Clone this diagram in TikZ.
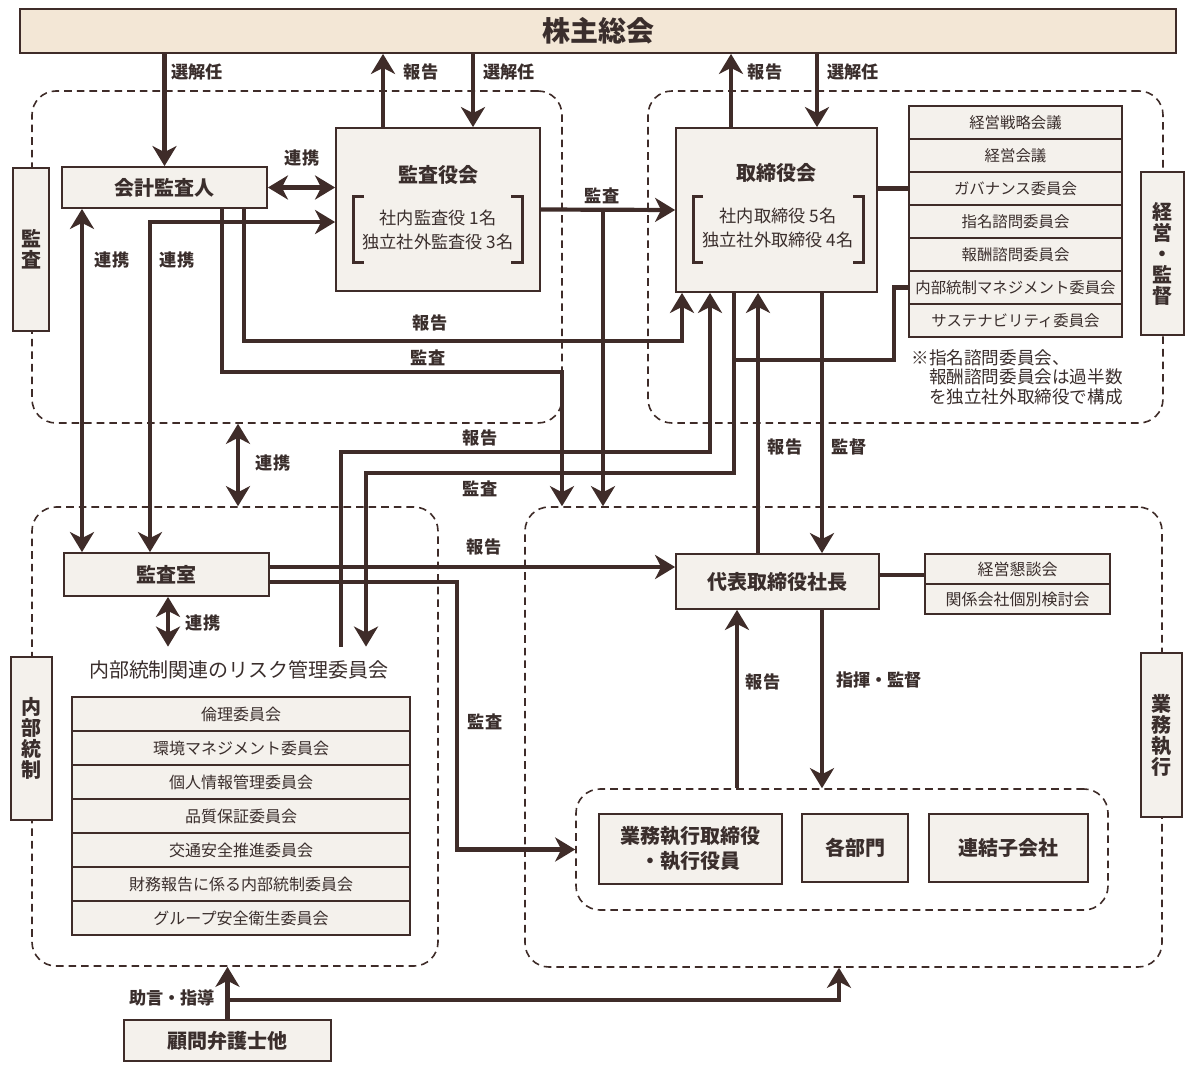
\documentclass[tikz,border=0pt]{standalone}
\usepackage{fontspec}
\setmainfont{Noto Sans CJK JP}
\usetikzlibrary{arrows.meta}

\definecolor{dline}{HTML}{3F2C29}
\definecolor{dtext}{HTML}{3A2E2C}
\definecolor{boxfill}{HTML}{F4F1EC}
\definecolor{topfill}{HTML}{F3E7D6}

\tikzset{
  box/.style={draw=dline,fill=boxfill,line width=0.9pt,inner sep=0pt,text=dtext,
    font=\bfseries\fontsize{10}{12.5}\selectfont,align=center},
  topbox/.style={box,fill=topfill,font=\bfseries\fontsize{14}{16}\selectfont},
  sidebox/.style={box,font=\bfseries\fontsize{10}{10.5}\selectfont},
  row/.style={box,line width=0.6pt,font=\fontsize{8}{10}\selectfont},
  comrow/.style={row,font=\fontsize{7.7}{10}\selectfont},
  area/.style={draw=dline,line width=0.8pt,dash pattern=on 3.8pt off 2.5pt,
    rounded corners=12pt,inner sep=0pt},
  lbl/.style={inner sep=0pt,text=dtext,font=\bfseries\fontsize{8.6}{10}\selectfont},
  member/.style={inner sep=0pt,text=dtext,align=center,font=\fontsize{8.6}{12}\selectfont},
  arr/.style={draw=dline,line width=2.1pt,-{Stealth[length=10pt,width=12pt,inset=3pt]}},
  darr/.style={arr,{Stealth[length=10pt,width=12pt,inset=3pt]}-{Stealth[length=10pt,width=12pt,inset=3pt]}},
  conn/.style={draw=dline,line width=2.1pt},
  brk/.style={draw=dline,line width=1.5pt}
}

% box from its corners (px)
\newcommand{\drawbox}[7][]{%
\node[box,#1,minimum width={(#5-#3)*0.5pt},minimum height={(#6-#4)*0.5pt}] (#2) at ({(#3+#5)/2},{(#4+#6)/2}) {#7};
}
\newcommand{\drawarea}[5]{%
\node[area,minimum width={(#4-#2)*0.5pt},minimum height={(#5-#3)*0.5pt}] (#1) at ({(#2+#4)/2},{(#3+#5)/2}) {};
}
\newcommand{\putlabel}[4]{%
\node[lbl] (#1) at (#2,#3) {#4};
}

\begin{document}
\begin{tikzpicture}[x=0.5pt,y=-0.5pt]
\useasboundingbox (0,0) rectangle (1200,1076);

% dashed areas
\drawarea{kansaarea}{32}{91}{562}{423}
\drawarea{keieiarea}{648}{91}{1163}{423}
\drawarea{naibuarea}{32}{507}{438}{966}
\drawarea{gyomuarea}{525}{507}{1162}{967}
\drawarea{innerarea}{576}{789}{1108}{910}

% side boxes
\drawbox[sidebox]{kansaside}{13}{168}{49}{331}{監\\査}
\drawbox[sidebox]{keieiside}{1141}{172}{1184}{335}{経\\営\\・\\監\\督}
\drawbox[sidebox]{naibuside}{11}{657}{52}{820}{内\\部\\統\\制}
\drawbox[sidebox]{gyomuside}{1141}{653}{1182}{817}{業\\務\\執\\行}

% main boxes
\drawbox[topbox]{soukai}{20}{9}{1176}{53}{株主総会}
\drawbox{kaikei}{62}{167}{267}{208}{会計監査人}
\drawbox{kansayaku}{336}{128}{540}{291}{}
\drawbox{torishimari}{676}{128}{877}{292}{}
\drawbox{kansashitsu}{64}{553}{269}{596}{監査室}
\drawbox{president}{676}{554}{879}{609}{代表取締役社長}
\drawbox{gyomuexec}{599}{814}{782}{884}{業務執行取締役\\・執行役員}
\drawbox{kakubumon}{802}{814}{908}{882}{各部門}
\drawbox{renketsu}{929}{814}{1088}{882}{連結子会社}
\drawbox{komon}{124}{1020}{331}{1061}{顧問弁護士他}

% 監査役会 / 取締役会
\node[box,draw=none,fill=none] (kansatitle) at (438,175) {監査役会};
\node[member] (kansamem) at (438,230) {社内監査役 1名\\独立社外監査役 3名};
\draw[brk] (364,196) -- (353,196) -- (353,262) -- (364,262);
\draw[brk] (511,196) -- (522,196) -- (522,262) -- (511,262);
\node[box,draw=none,fill=none] (torititle) at (776,173) {取締役会};
\node[member] (torimem) at (778,228) {社内取締役 5名\\独立社外取締役 4名};
\draw[brk] (703,196) -- (693,196) -- (693,262) -- (703,262);
\draw[brk] (853,196) -- (863,196) -- (863,262) -- (853,262);

% committees
\drawbox[comrow]{com1}{909}{106}{1122}{139}{経営戦略会議}
\drawbox[comrow]{com2}{909}{139}{1122}{172}{経営会議}
\drawbox[comrow]{com3}{909}{172}{1122}{205}{ガバナンス委員会}
\drawbox[comrow]{com4}{909}{205}{1122}{238}{指名諮問委員会}
\drawbox[comrow]{com5}{909}{238}{1122}{271}{報酬諮問委員会}
\drawbox[comrow]{com6}{909}{271}{1122}{304}{内部統制マネジメント委員会}
\drawbox[comrow]{com7}{909}{304}{1122}{337}{サステナビリティ委員会}
\node[member,align=left,anchor=north west,font=\fontsize{8.8}{9.8}\selectfont] (note) at (911,349)
  {※指名諮問委員会、\\\hspace*{1em}報酬諮問委員会は過半数\\\hspace*{1em}を独立社外取締役で構成};

% risk committees
\node[member,minimum height=23pt,font=\fontsize{10}{12}\selectfont] (risk) at (239,670) {内部統制関連のリスク管理委員会};
\drawbox[row]{risk1}{72}{697}{410}{731}{倫理委員会}
\drawbox[row]{risk2}{72}{731}{410}{765}{環境マネジメント委員会}
\drawbox[row]{risk3}{72}{765}{410}{799}{個人情報管理委員会}
\drawbox[row]{risk4}{72}{799}{410}{833}{品質保証委員会}
\drawbox[row]{risk5}{72}{833}{410}{867}{交通安全推進委員会}
\drawbox[row]{risk6}{72}{867}{410}{901}{財務報告に係る内部統制委員会}
\drawbox[row]{risk7}{72}{901}{410}{935}{グループ安全衛生委員会}

% 経営懇談会
\drawbox[row]{kondan1}{925}{554}{1110}{584}{経営懇談会}
\drawbox[row]{kondan2}{925}{584}{1110}{614}{関係会社個別検討会}

% lanes
\coordinate (x82) at (82,0);
\coordinate (x168) at (168,0);
\coordinate (x238) at (238,0);
\coordinate (x383) at (383,0);
\coordinate (x473) at (473,0);
\coordinate (x603) at (603,0);
\coordinate (x731) at (731,0);
\coordinate (x737) at (737,0);
\coordinate (x758) at (758,0);
\coordinate (x817) at (817,0);
\coordinate (x822) at (822,0);
\coordinate (y567) at (0,567);
\coordinate (y575) at (0,575);
\coordinate (c150) at (150,222);
\coordinate (c244) at (244,341);
\coordinate (c682) at (682,341);
\coordinate (c222) at (222,372);
\coordinate (c562) at (562,372);
\coordinate (c341) at (341,452);
\coordinate (c710) at (710,452);
\coordinate (c734) at (734,473);
\coordinate (c366) at (366,473);
\coordinate (c894) at (894,360);
\coordinate (c457) at (457,582);
\coordinate (c839) at (839,1000);

% 株主総会
\draw[arr] (soukai.south -| kaikei.north) -- (kaikei.north);
\draw[arr] (kansayaku.north -| x383) -- (soukai.south -| x383);
\draw[arr] (soukai.south -| x473) -- (kansayaku.north -| x473);
\draw[arr] (torishimari.north -| x731) -- (soukai.south -| x731);
\draw[arr] (soukai.south -| x817) -- (torishimari.north -| x817);
\putlabel{l1}{197}{72}{選解任}
\putlabel{l2}{421}{72}{報告}
\putlabel{l3}{509}{72}{選解任}
\putlabel{l4}{765}{72}{報告}
\putlabel{l5}{853}{72}{選解任}

% 監査
\draw[darr] (kaikei.east) -- (kaikei.east -| kansayaku.west);
\draw[darr] (kaikei.south -| x82) -- (kansashitsu.north -| x82);
\draw[darr] (kansashitsu.north -| c150) -- (c150) -- (c150 -| kansayaku.west);
\draw[arr] (kansayaku.east) -- (torishimari.west);
\draw[arr] (kansayaku.east -| x603) -- (gyomuarea.north -| x603);
\draw[arr] (kaikei.south -| c244) -- (c244) -- (c682) -- (torishimari.south -| c682);
\draw[arr] (kaikei.south -| c222) -- (c222) -- (c562) -- (gyomuarea.north -| c562);
\putlabel{l6}{302}{158}{連携}
\putlabel{l7}{112}{260}{連携}
\putlabel{l8}{177}{260}{連携}
\putlabel{l9}{602}{196}{監査}
\putlabel{l10}{430}{323}{報告}
\putlabel{l11}{428}{358}{監査}

% 取締役会
\draw[conn] (torishimari.east |- com3) -- (com3.west);
\draw[arr] (risk.north -| c341) -- (c341) -- (c710) -- (torishimari.south -| c710);
\draw[arr] (torishimari.south -| c734) -- (c734) -- (c366) -- (risk.north -| c366);
\draw[conn] (com6.west) -| (c894) -- (c894 -| c734);
\draw[arr] (president.north -| x758) -- (torishimari.south -| x758);
\draw[arr] (torishimari.south -| x822) -- (president.north -| x822);
\putlabel{l12}{480}{438}{報告}
\putlabel{l13}{480}{489}{監査}
\putlabel{l14}{785}{447}{報告}
\putlabel{l15}{849}{447}{監督}

% 内部統制
\draw[darr] (kansaarea.south -| x238) -- (naibuarea.north -| x238);
\draw[darr] (kansashitsu.south -| x168) -- (risk.north -| x168);
\draw[arr] (kansashitsu.east |- y567) -- (president.west |- y567);
\draw[arr] (kansashitsu.east |- c457) -- (c457) |- (innerarea.west);
\putlabel{l16}{273}{463}{連携}
\putlabel{l17}{203}{623}{連携}
\putlabel{l18}{484}{547}{報告}
\putlabel{l19}{485}{722}{監査}

% 業務執行
\draw[conn] (president.east |- y575) -- (kondan1.west |- y575);
\draw[arr] (innerarea.north -| x737) -- (president.south -| x737);
\draw[arr] (president.south -| x822) -- (innerarea.north -| x822);
\putlabel{l20}{763}{682}{報告}
\putlabel{l21}{879}{680}{指揮・監督}

% 顧問弁護士他
\draw[arr] (komon.north) -- (naibuarea.south -| komon.north);
\draw[arr] (komon.north |- c839) -- (c839) -- (gyomuarea.south -| c839);
\putlabel{l22}{172}{998}{助言・指導}

\end{tikzpicture}
\end{document}
